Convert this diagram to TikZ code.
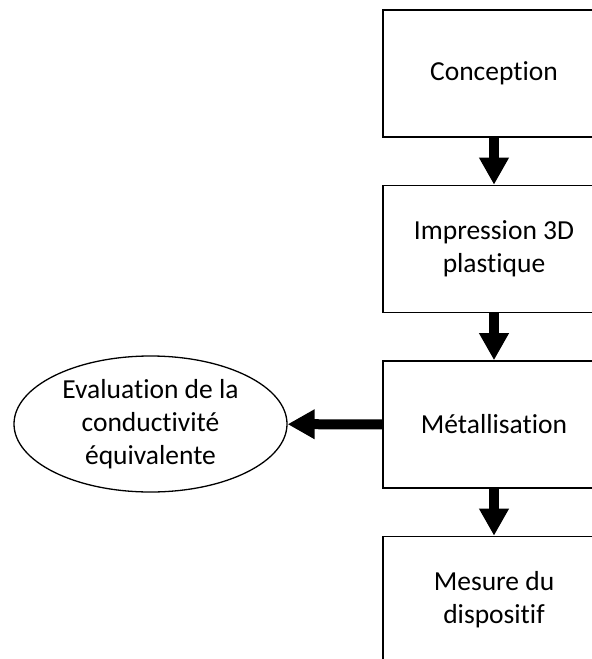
\documentclass[tikz,border=0pt]{standalone}
\usepackage{fontspec}
\setmainfont[Ligatures=NoCommon]{Carlito}
\usetikzlibrary{arrows.meta,positioning,shapes.geometric}

\tikzset{
  stepbox/.style={draw, line width=1.6pt, minimum width=222pt, minimum height=127pt,
    align=center, inner sep=0pt},
  bigarrow/.style={-{Triangle[length=27pt,width=28pt]}, line width=10pt}
}

\begin{document}
\begin{tikzpicture}[x=1pt, y=-1pt, font=\fontsize{27.5}{33}\selectfont]
  \path[use as bounding box, clip] (0,0) rectangle (592,659);
  % process column
  \node[stepbox] (conception) at (494,73.5) {Conception};
  \node[stepbox] (impression) at (494,249) {Impression 3D\\plastique};
  \node[stepbox] (metallisation) at (494,424.5) {Métallisation};
  \node[stepbox] (mesure) at (494,600) {Mesure du\\dispositif};
  % side branch
  \node[draw, ellipse, line width=1.3pt, minimum width=273pt, minimum height=136pt,
    inner sep=0pt, align=center] (evaluation) at (150.5,424)
    {Evaluation de la\\conductivité\\équivalente};
  % arrows
  \draw[bigarrow] (conception) -- (impression);
  \draw[bigarrow] (impression) -- (metallisation);
  \draw[bigarrow] (metallisation) -- (mesure);
  \draw[bigarrow] (metallisation) -- (evaluation);
\end{tikzpicture}
\end{document}
